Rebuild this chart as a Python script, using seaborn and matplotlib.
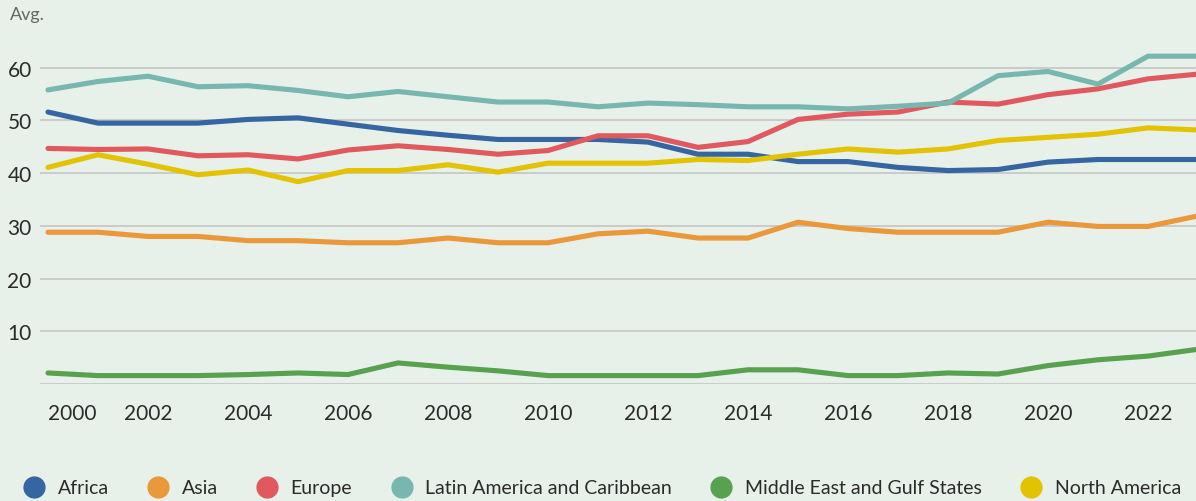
import pandas as pd
import matplotlib
matplotlib.use("Agg")
import matplotlib.pyplot as plt
from matplotlib.lines import Line2D
import seaborn as sns

years = list(range(2000, 2024))

africa = [51.6, 49.5, 49.5, 49.5, 50.2, 50.5, 49.3, 48.1, 47.2, 46.4, 46.4, 46.4,
          45.9, 43.6, 43.6, 42.2, 42.2, 41.1, 40.5, 40.7, 42.1, 42.6, 42.6, 42.6]
asia = [28.8, 28.8, 28.0, 28.0, 27.2, 27.2, 26.8, 26.8, 27.7, 26.8, 26.8, 28.5,
        29.0, 27.7, 27.7, 30.7, 29.5, 28.8, 28.8, 28.8, 30.7, 29.9, 29.9, 31.9]
europe = [44.7, 44.5, 44.6, 43.3, 43.5, 42.7, 44.4, 45.2, 44.5, 43.6, 44.3, 47.1,
          47.1, 44.9, 46.0, 50.2, 51.2, 51.6, 53.5, 53.1, 54.9, 56.0, 57.9, 58.8]
latin_america = [55.8, 57.4, 58.4, 56.4, 56.6, 55.7, 54.5, 55.5, 54.5, 53.5, 53.5, 52.6,
                 53.3, 53.0, 52.6, 52.6, 52.2, 52.7, 53.3, 58.5, 59.3, 56.9, 62.2, 62.2]
middle_east = [2.1, 1.6, 1.6, 1.6, 1.8, 2.1, 1.8, 4.0, 3.2, 2.5, 1.6, 1.6,
               1.6, 1.6, 2.7, 2.7, 1.6, 1.6, 2.1, 1.9, 3.5, 4.6, 5.3, 6.6]
north_america = [41.1, 43.5, 41.7, 39.7, 40.6, 38.4, 40.5, 40.5, 41.6, 40.2, 41.9, 41.9,
                 41.9, 42.6, 42.4, 43.6, 44.6, 44.0, 44.6, 46.2, 46.8, 47.4, 48.6, 48.2]

regions = ["Africa", "Asia", "Europe", "Latin America and Caribbean",
           "Middle East and Gulf States", "North America"]
colors = ["#3566a1", "#e9983a", "#e1595e", "#77b7af", "#58a14f", "#e3c300"]
y_ticks = [10, 20, 30, 40, 50, 60]
x_ticks = list(range(2000, 2023, 2))

series = [africa, asia, europe, latin_america, middle_east, north_america]
df = pd.concat([pd.DataFrame({"Year": years, "Value": vals, "Region": name})
                for name, vals in zip(regions, series)])

bg = "#e7f1ea"
sns.set_theme(style="white")
plt.rcParams["font.family"] = ["Lato", "DejaVu Sans"]

fig = plt.figure(figsize=(11.96, 5.02), dpi=100, facecolor=bg)
ax = fig.add_axes([40 / 1196, 0.233, 1 - 40 / 1196, 0.693])
ax.set_facecolor(bg)

# grid lines incl. the unlabeled zero line
for y in [0] + y_ticks:
    ax.axhline(y, color="#c6c9c7", lw=1.3, zorder=0)

sns.lineplot(data=df, x="Year", y="Value", hue="Region", palette=colors,
             linewidth=3.7, legend=False, ax=ax)

ax.set_xlim(1999.84, 2022.96)
ax.set_ylim(0, 66)
ax.set_xticks(x_ticks)
ax.set_xticklabels([str(t) for t in x_ticks])
ax.get_xticklabels()[0].set_horizontalalignment("left")
ax.set_yticks(y_ticks)
ax.tick_params(axis="both", length=0, labelsize=15, colors="#2b2b2b")
ax.tick_params(axis="x", pad=14)
ax.tick_params(axis="y", pad=6)
ax.set_xlabel("")
ax.set_ylabel("")
for s in ax.spines.values():
    s.set_visible(False)

fig.text(10 / 1196, 1 - 15 / 502, "Avg.", fontsize=13, color="#666666", va="center")

handles = [Line2D([], [], marker="o", linestyle="", markersize=15, color=c) for c in colors]
fig.legend(handles, regions, loc="center left", bbox_to_anchor=(5 / 1196, 1 - 489 / 502),
           ncol=6, frameon=False, fontsize=14, handletextpad=0.6, columnspacing=1.95,
           labelcolor="#2b2b2b", handlelength=1.2)

fig.savefig("out.png", dpi=100, facecolor=bg)
